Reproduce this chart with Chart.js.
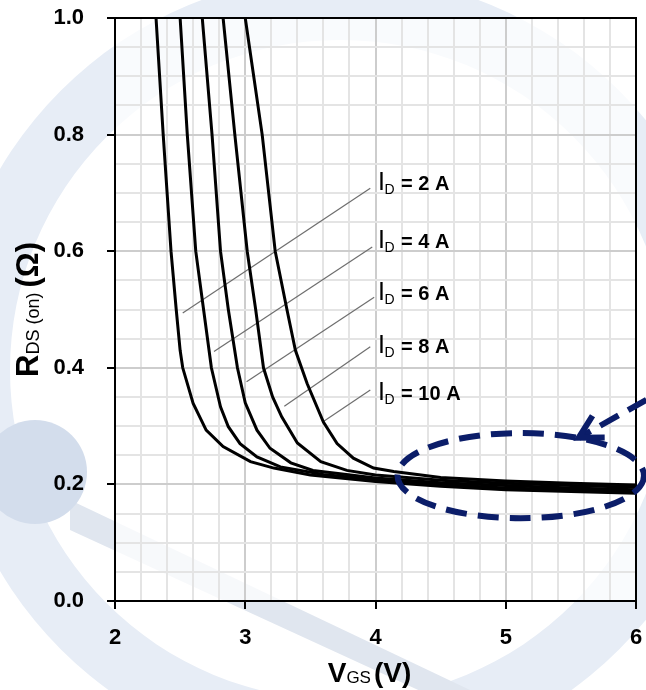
<!DOCTYPE html>
<html lang="en">
<head>
<meta charset="UTF-8">
<title>RDS(on) vs VGS</title>
<script src="https://cdn.jsdelivr.net/npm/chart.js"></script>
<style>
  body { margin: 0; background: #fff; }
  #wrap { width: 646px; height: 690px; }
</style>
</head>
<body>
<div id="wrap"><canvas id="chart" width="646" height="690"></canvas></div>
<script>
// drain current of each curve
const currents = ['2 A', '4 A', '6 A', '8 A', '10 A'];

// curves: VGS in V, RDS(on) in ohm
const vgs2A = [2.315, 2.37, 2.43, 2.47, 2.50, 2.52, 2.60, 2.70, 2.83, 3.04, 3.22, 3.50, 4.00, 4.50, 5.00, 5.50, 6.00];
const rds2A = [1.00, 0.80, 0.60, 0.50, 0.43, 0.40, 0.339, 0.293, 0.265, 0.239, 0.228, 0.216, 0.205, 0.197, 0.191, 0.188, 0.185];

const vgs4A = [2.50, 2.555, 2.62, 2.68, 2.74, 2.81, 2.87, 2.96, 3.09, 3.27, 3.60, 4.00, 4.50, 5.00, 5.50, 6.00];
const rds4A = [1.00, 0.80, 0.60, 0.50, 0.40, 0.333, 0.299, 0.27, 0.247, 0.23, 0.217, 0.208, 0.200, 0.194, 0.191, 0.188];

const vgs6A = [2.67, 2.745, 2.81, 2.87, 2.94, 3.00, 3.09, 3.19, 3.35, 3.52, 4.00, 4.50, 5.00, 5.50, 6.00];
const rds6A = [1.00, 0.80, 0.60, 0.50, 0.40, 0.34, 0.293, 0.262, 0.237, 0.224, 0.211, 0.203, 0.198, 0.194, 0.191];

const vgs8A = [2.83, 2.92, 3.015, 3.08, 3.14, 3.21, 3.28, 3.40, 3.58, 3.78, 4.00, 4.50, 5.00, 5.50, 6.00];
const rds8A = [1.00, 0.80, 0.60, 0.50, 0.40, 0.35, 0.316, 0.271, 0.239, 0.224, 0.216, 0.207, 0.202, 0.198, 0.195];

const vgs10A = [3.00, 3.13, 3.23, 3.32, 3.385, 3.475, 3.60, 3.705, 3.83, 3.985, 4.14, 4.50, 5.00, 5.50, 6.00];
const rds10A = [1.00, 0.80, 0.60, 0.50, 0.43, 0.373, 0.307, 0.27, 0.245, 0.228, 0.222, 0.212, 0.206, 0.202, 0.199];

const vgsSeries = [vgs2A, vgs4A, vgs6A, vgs8A, vgs10A];
const rdsSeries = [rds2A, rds4A, rds6A, rds8A, rds10A];

// leader lines from each curve to its label
const leaderVgsFrom = [2.52, 2.76, 3.01, 3.30, 3.60];
const leaderRdsFrom = [0.494, 0.428, 0.376, 0.334, 0.308];
const leaderVgsTo = [3.96, 3.975, 3.99, 3.96, 3.96];
const leaderRdsTo = [0.708, 0.607, 0.521, 0.436, 0.362];
const labelVgs = 4.02;
const labelRds = [0.705, 0.605, 0.517, 0.426, 0.345];

// highlighted flat region and the arrow pointing at it
const zoneVgs = 5.115, zoneRds = 0.215;
const zoneHalfVgs = 0.946, zoneHalfRds = 0.073;
const arrowVgs = [6.08, 5.56];
const arrowRds = [0.345, 0.28];

const FONT = '"Liberation Sans", Arial, sans-serif';
const NAVY = '#0b1d69';

function isMajor(v, step) {
  return Math.abs(v / step - Math.round(v / step)) < 1e-6;
}

const datasets = [];
vgsSeries.forEach((xs, i) => {
  datasets.push({
    label: 'ID = ' + currents[i],
    data: xs.map((x, j) => ({ x: x, y: rdsSeries[i][j] })),
    borderColor: '#000',
    borderWidth: 3,
    pointRadius: 0,
    tension: 0,
    fill: false
  });
});
currents.forEach((c, i) => {
  datasets.push({
    label: 'leader ' + c,
    data: [{ x: leaderVgsFrom[i], y: leaderRdsFrom[i] }, { x: leaderVgsTo[i], y: leaderRdsTo[i] }],
    borderColor: '#6e6e6e',
    borderWidth: 1.2,
    pointRadius: 0,
    fill: false
  });
});

// faint logo watermark behind the chart
const watermark = {
  id: 'watermark',
  beforeDraw(chart) {
    const ctx = chart.ctx;
    const a = chart.chartArea;
    ctx.save();
    ctx.fillStyle = '#fff';
    ctx.fillRect(0, 0, chart.width, chart.height);

    ctx.beginPath();
    ctx.arc(340, 370, 395, 0, Math.PI * 2);
    ctx.arc(340, 370, 330, 0, Math.PI * 2, true);
    ctx.fillStyle = '#e7edf6';
    ctx.fill();

    ctx.beginPath();
    ctx.moveTo(70, 500);
    ctx.lineTo(470, 690);
    ctx.lineTo(440, 700);
    ctx.lineTo(70, 530);
    ctx.closePath();
    ctx.fillStyle = '#e0e6ef';
    ctx.fill();

    ctx.beginPath();
    ctx.arc(35, 472, 52, 0, Math.PI * 2);
    ctx.fillStyle = '#d3ddec';
    ctx.fill();

    ctx.fillStyle = 'rgba(255,255,255,0.75)';
    ctx.fillRect(a.left, a.top, a.right - a.left, a.bottom - a.top);
    ctx.restore();
  }
};

// frame, curve labels, axis titles, highlight ellipse
const decorations = {
  id: 'decorations',
  afterDatasetsDraw(chart) {
    const ctx = chart.ctx;
    const xs = chart.scales.x, ys = chart.scales.y;
    ctx.save();
    ctx.fillStyle = '#000';
    ctx.textBaseline = 'alphabetic';
    ctx.textAlign = 'left';
    currents.forEach((c, i) => {
      const x = xs.getPixelForValue(labelVgs);
      const y = ys.getPixelForValue(labelRds[i]);
      ctx.font = '25px ' + FONT;
      ctx.fillText('I', x, y);
      ctx.font = '14px ' + FONT;
      ctx.fillText('D', x + 6.5, y + 4);
      ctx.font = 'bold 20px ' + FONT;
      ctx.fillText('= ' + c, x + 23, y);
    });
    ctx.restore();
  },
  afterDraw(chart) {
    const ctx = chart.ctx;
    const a = chart.chartArea;
    const xs = chart.scales.x, ys = chart.scales.y;
    ctx.save();
    ctx.strokeStyle = '#000';
    ctx.lineWidth = 2;
    ctx.strokeRect(a.left, a.top, a.right - a.left, a.bottom - a.top);

    // x title: VGS (V)
    ctx.fillStyle = '#000';
    ctx.textBaseline = 'alphabetic';
    ctx.textAlign = 'left';
    const big = 'bold 28px ' + FONT, sub = '17px ' + FONT;
    ctx.font = big; const wV = ctx.measureText('V').width; const wP = ctx.measureText('(V)').width;
    ctx.font = sub; const wGS = ctx.measureText('GS').width;
    let tx = (a.left + a.right) / 2 - 6 - (wV + wGS + 3 + wP) / 2;
    const ty = 682;
    ctx.font = big; ctx.fillText('V', tx, ty); tx += wV;
    ctx.font = sub; ctx.fillText('GS', tx, ty + 1); tx += wGS + 3;
    ctx.font = big; ctx.fillText('(V)', tx, ty);

    // y title: RDS (on) (Ω)
    const bigY = 'bold 31px ' + FONT, subY = '18px ' + FONT;
    ctx.font = bigY; const wR = ctx.measureText('R').width; const wO = ctx.measureText('(Ω)').width;
    ctx.font = subY; const wDS = ctx.measureText('DS (on) ').width;
    ctx.translate(38, (a.top + a.bottom) / 2);
    ctx.rotate(-Math.PI / 2);
    let ux = -(wR + wDS + wO) / 2;
    ctx.font = bigY; ctx.fillText('R', ux, 0); ux += wR;
    ctx.font = subY; ctx.fillText('DS (on) ', ux, 1); ux += wDS;
    ctx.font = bigY; ctx.fillText('(Ω)', ux, 0);
    ctx.setTransform(1, 0, 0, 1, 0, 0);

    // dashed ellipse round the flat part of the curves
    const cx = xs.getPixelForValue(zoneVgs), cy = ys.getPixelForValue(zoneRds);
    const rx = xs.getPixelForValue(zoneVgs + zoneHalfVgs) - cx;
    const ry = cy - ys.getPixelForValue(zoneRds + zoneHalfRds);
    ctx.strokeStyle = NAVY;
    ctx.lineWidth = 6;
    ctx.setLineDash([21, 11]);
    ctx.beginPath();
    ctx.ellipse(cx, cy, rx, ry, 0, 0, Math.PI * 2);
    ctx.stroke();

    // arrow
    const x0 = xs.getPixelForValue(arrowVgs[0]), y0 = ys.getPixelForValue(arrowRds[0]);
    const x1 = xs.getPixelForValue(arrowVgs[1]), y1 = ys.getPixelForValue(arrowRds[1]);
    ctx.beginPath();
    ctx.moveTo(x0, y0);
    ctx.lineTo(x1, y1);
    ctx.stroke();
    ctx.setLineDash([]);
    const ang = Math.atan2(y0 - y1, x0 - x1);
    ctx.beginPath();
    ctx.moveTo(x1 + 26 * Math.cos(ang - 0.5), y1 + 26 * Math.sin(ang - 0.5));
    ctx.lineTo(x1, y1);
    ctx.lineTo(x1 + 26 * Math.cos(ang + 0.5), y1 + 26 * Math.sin(ang + 0.5));
    ctx.stroke();
    ctx.restore();
  }
};

new Chart(document.getElementById('chart'), {
  type: 'line',
  data: { datasets: datasets },
  options: {
    responsive: false,
    animation: false,
    layout: { padding: { left: 0, top: 18, right: 10, bottom: 0 } },
    plugins: { legend: { display: false }, tooltip: { enabled: false } },
    scales: {
      x: {
        type: 'linear',
        min: 2,
        max: 6,
        afterFit(scale) {
          scale.height = 89;
          scale.paddingLeft = 0;
          scale.paddingRight = 0;
        },
        border: { color: '#000', width: 2 },
        grid: {
          color: c => (c.tick && isMajor(c.tick.value, 1)) ? '#cdcdcd' : '#e4e4e4',
          lineWidth: 2,
          tickLength: 8,
          tickWidth: 2,
          tickColor: c => (c.tick && isMajor(c.tick.value, 1)) ? '#000' : 'rgba(0,0,0,0)'
        },
        ticks: {
          stepSize: 0.2,
          autoSkip: false,
          maxRotation: 0,
          padding: 16,
          color: '#000',
          font: { family: FONT, size: 22, weight: 'bold' },
          callback: v => isMajor(v, 1) ? String(Math.round(v)) : ''
        }
      },
      y: {
        type: 'linear',
        min: 0,
        max: 1,
        afterFit(scale) {
          scale.width = 115;
          scale.paddingTop = 0;
          scale.paddingBottom = 0;
        },
        border: { color: '#000', width: 2 },
        grid: {
          color: c => (c.tick && isMajor(c.tick.value, 0.2)) ? '#cdcdcd' : '#e4e4e4',
          lineWidth: 2,
          tickLength: 8,
          tickWidth: 2,
          tickColor: c => (c.tick && isMajor(c.tick.value, 0.2)) ? '#000' : 'rgba(0,0,0,0)'
        },
        ticks: {
          stepSize: 0.05,
          autoSkip: false,
          padding: 23,
          color: '#000',
          font: { family: FONT, size: 22, weight: 'bold' },
          callback: v => isMajor(v, 0.2) ? v.toFixed(1) : ''
        }
      }
    }
  },
  plugins: [watermark, decorations]
});
</script>
</body>
</html>
